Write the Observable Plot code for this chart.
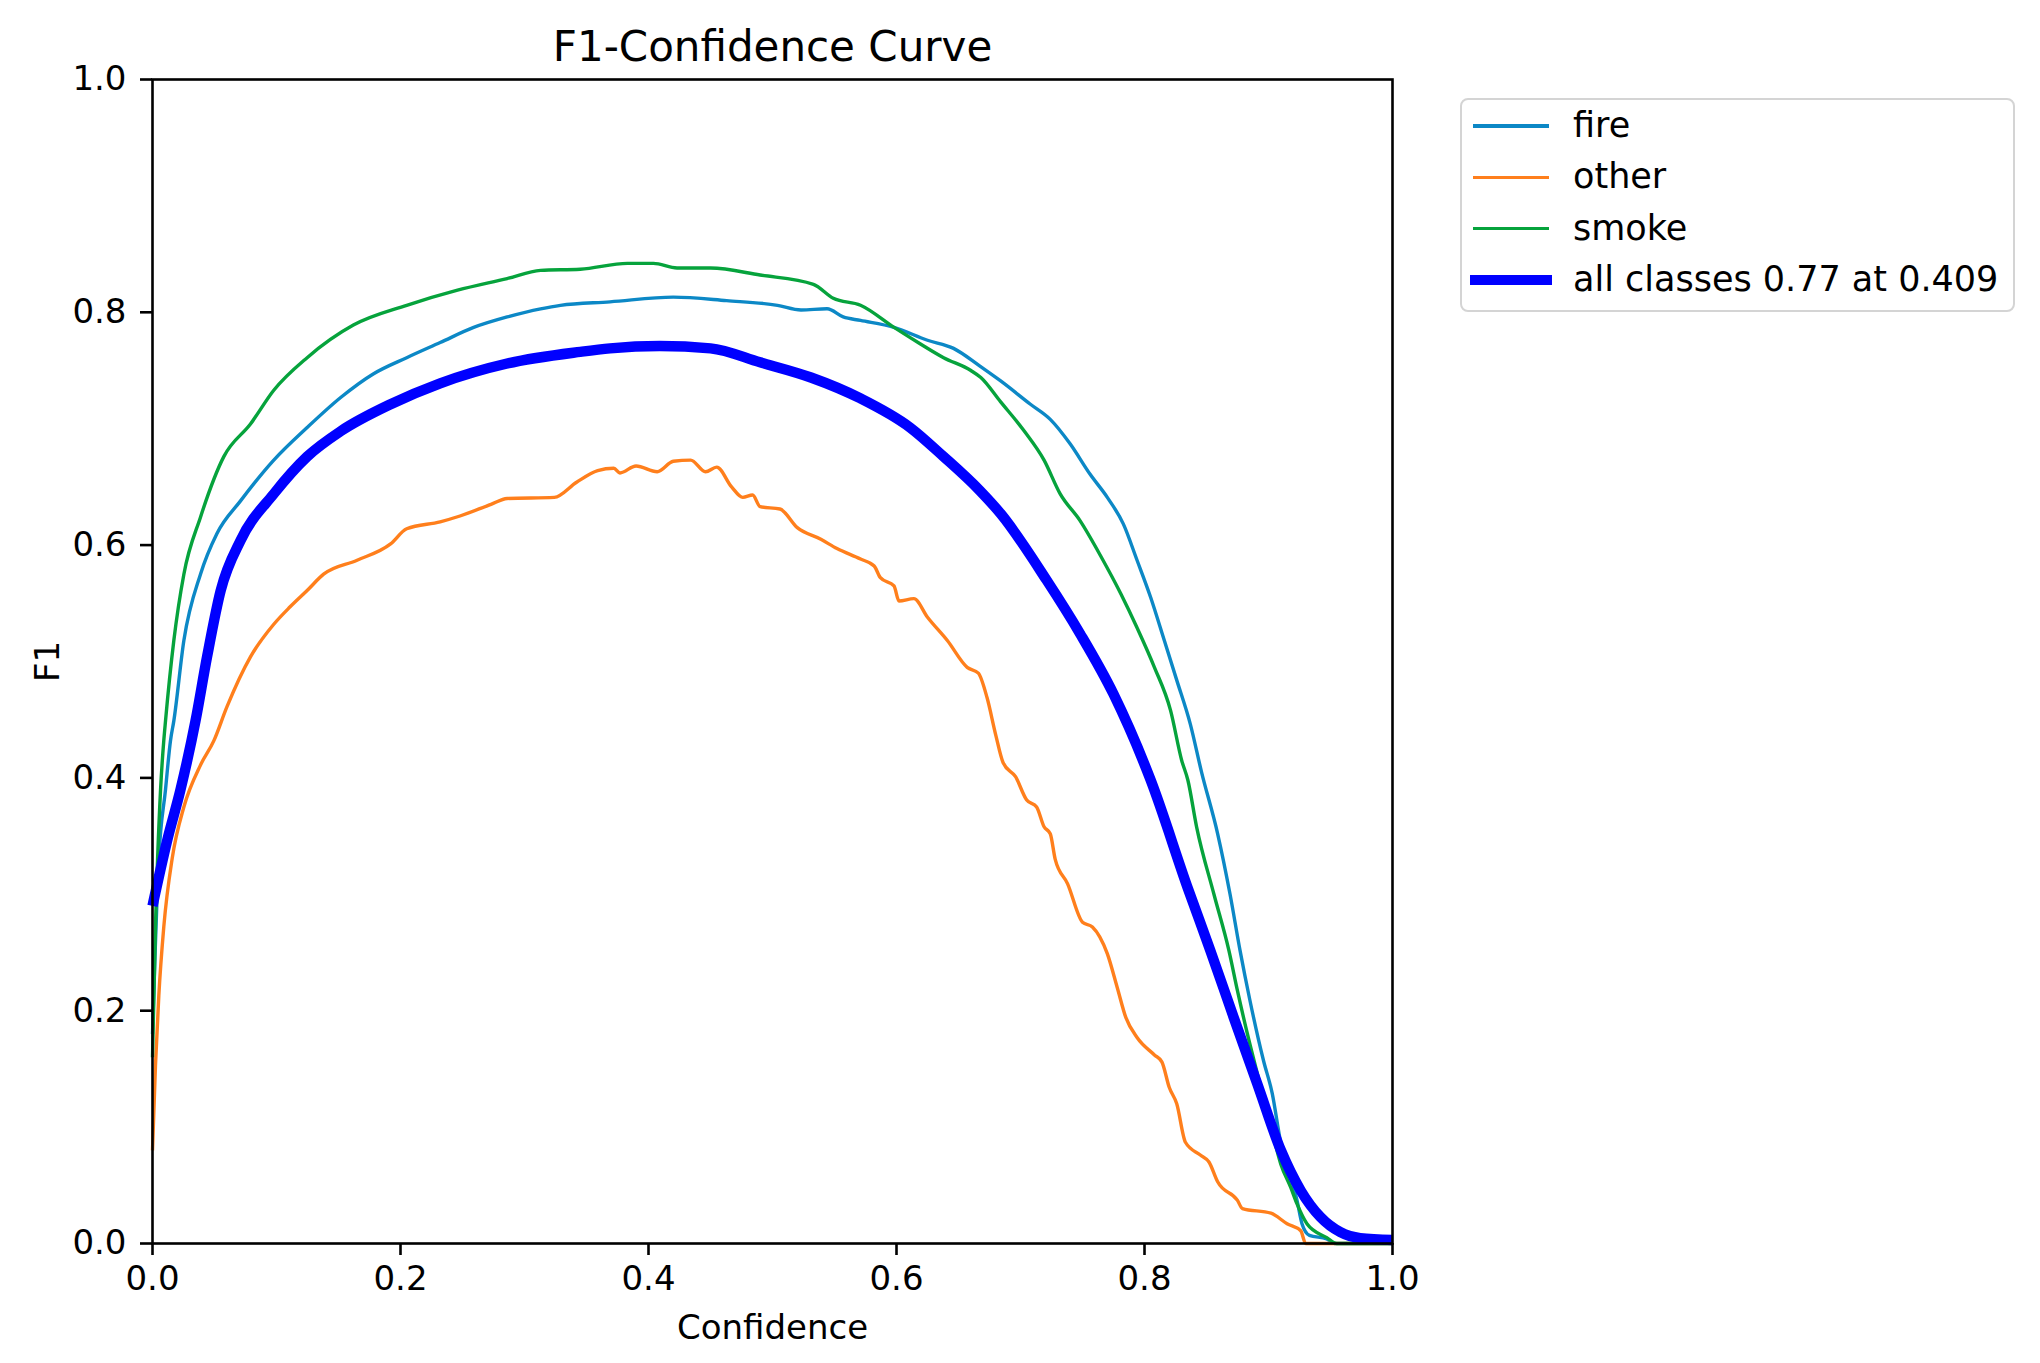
<!DOCTYPE html>
<html>
<head>
<meta charset="utf-8">
<script src="https://cdn.jsdelivr.net/npm/d3@7"></script>
<script src="https://cdn.jsdelivr.net/npm/@observablehq/plot@0.6"></script>
<style>
  html, body { margin: 0; padding: 0; background: #fff; }
  #wrap { position: relative; width: 2040px; height: 1363px; font-family: "DejaVu Sans", sans-serif; }
  #legend { position: absolute; left: 1460px; top: 98px; width: 551px; height: 210px; border: 2px solid #d4d4d4; border-radius: 8px; background: #fff; box-sizing: content-box; }
  .item { position: absolute; left: 0; height: 0; }
  .swatch { position: absolute; left: 11px; width: 76px; }
  .lab { position: absolute; left: 111px; font-size: 35px; line-height: 40px; top: -21px; white-space: nowrap; color: #000; }
</style>
</head>
<body>
<div id="wrap">
  <div id="chart"></div>
  <div id="legend"></div>
</div>
<script>
const title = "F1-Confidence Curve";
const xLabel = "Confidence";
const yLabel = "F1";
const xTicks = [0, 0.2, 0.4, 0.6, 0.8, 1.0];
const yTicks = [0, 0.2, 0.4, 0.6, 0.8, 1.0];

const seriesNames = ["fire", "other", "smoke", "all classes 0.77 at 0.409"];
const seriesColors = ["#0c88c6", "#ff7f1c", "#06a33c", "#0000ff"];
const seriesWidths = [3.4, 3.4, 3.4, 10.4];

const fireX = [0, 0.0051, 0.0105, 0.0145, 0.0172, 0.0253, 0.0387, 0.052, 0.071, 0.0978, 0.1247, 0.152, 0.178, 0.205, 0.232, 0.259, 0.286, 0.313, 0.329, 0.369, 0.420, 0.463, 0.504, 0.523, 0.544, 0.557, 0.571, 0.598, 0.625, 0.646, 0.667, 0.684, 0.708, 0.724, 0.740, 0.756, 0.770, 0.783, 0.794, 0.805, 0.816, 0.826, 0.837, 0.846, 0.859, 0.869, 0.877, 0.885, 0.896, 0.903, 0.910, 0.918, 0.923, 0.927, 0.933, 0.947, 0.953, 1.0];
const fireY = [0.18, 0.331, 0.39, 0.432, 0.449, 0.518, 0.575, 0.610, 0.638, 0.673, 0.701, 0.727, 0.747, 0.761, 0.774, 0.787, 0.796, 0.803, 0.806, 0.809, 0.813, 0.810, 0.806, 0.802, 0.803, 0.796, 0.793, 0.787, 0.776, 0.769, 0.754, 0.741, 0.721, 0.708, 0.687, 0.661, 0.641, 0.618, 0.587, 0.555, 0.518, 0.484, 0.446, 0.405, 0.352, 0.300, 0.252, 0.209, 0.157, 0.129, 0.086, 0.057, 0.037, 0.017, 0.007, 0.004, 0.0, 0.0];

const otherX = [0, 0.0024, 0.0051, 0.0091, 0.0159, 0.0253, 0.0387, 0.0495, 0.060, 0.079, 0.0978, 0.111, 0.1247, 0.138, 0.165, 0.192, 0.205, 0.232, 0.248, 0.273, 0.286, 0.324, 0.342, 0.359, 0.372, 0.377, 0.390, 0.407, 0.420, 0.434, 0.446, 0.455, 0.467, 0.476, 0.484, 0.490, 0.506, 0.520, 0.539, 0.552, 0.571, 0.582, 0.587, 0.598, 0.602, 0.614, 0.625, 0.641, 0.657, 0.666, 0.673, 0.680, 0.686, 0.696, 0.705, 0.713, 0.719, 0.724, 0.728, 0.738, 0.750, 0.758, 0.770, 0.778, 0.785, 0.794, 0.808, 0.814, 0.820, 0.826, 0.833, 0.845, 0.852, 0.859, 0.875, 0.879, 0.902, 0.915, 0.926, 0.930, 1.0];
const otherY = [0.08, 0.153, 0.213, 0.272, 0.331, 0.375, 0.411, 0.432, 0.461, 0.504, 0.532, 0.547, 0.561, 0.575, 0.587, 0.601, 0.614, 0.620, 0.625, 0.635, 0.640, 0.641, 0.654, 0.664, 0.666, 0.662, 0.668, 0.663, 0.672, 0.673, 0.663, 0.667, 0.650, 0.641, 0.643, 0.633, 0.631, 0.615, 0.605, 0.597, 0.588, 0.582, 0.572, 0.565, 0.552, 0.554, 0.538, 0.518, 0.495, 0.490, 0.469, 0.437, 0.413, 0.401, 0.381, 0.375, 0.358, 0.352, 0.330, 0.309, 0.276, 0.272, 0.249, 0.220, 0.194, 0.177, 0.162, 0.156, 0.134, 0.120, 0.087, 0.076, 0.070, 0.053, 0.037, 0.030, 0.026, 0.017, 0.011, 0.0, 0.0];

const smokeX = [0, 0.0024, 0.0065, 0.0091, 0.0105, 0.0172, 0.0253, 0.0387, 0.0575, 0.079, 0.0978, 0.1247, 0.162, 0.205, 0.246, 0.286, 0.313, 0.345, 0.383, 0.404, 0.423, 0.45, 0.490, 0.533, 0.549, 0.571, 0.598, 0.619, 0.638, 0.660, 0.668, 0.684, 0.703, 0.719, 0.732, 0.748, 0.765, 0.781, 0.794, 0.808, 0.821, 0.830, 0.835, 0.842, 0.856, 0.868, 0.875, 0.883, 0.891, 0.902, 0.910, 0.918, 0.923, 0.931, 0.947, 0.955, 1.0];
const smokeY = [0.16, 0.272, 0.39, 0.432, 0.449, 0.518, 0.575, 0.624, 0.676, 0.704, 0.733, 0.761, 0.789, 0.806, 0.819, 0.829, 0.836, 0.837, 0.842, 0.842, 0.838, 0.838, 0.832, 0.824, 0.812, 0.806, 0.787, 0.773, 0.761, 0.750, 0.744, 0.723, 0.698, 0.673, 0.644, 0.621, 0.590, 0.558, 0.529, 0.495, 0.458, 0.415, 0.398, 0.358, 0.300, 0.252, 0.217, 0.180, 0.146, 0.100, 0.068, 0.048, 0.034, 0.017, 0.005, 0.0, 0.0];

const allX = [0, 0.0118, 0.0226, 0.0347, 0.044, 0.055, 0.071, 0.0978, 0.1247, 0.152, 0.192, 0.232, 0.286, 0.345, 0.369, 0.409, 0.45, 0.490, 0.531, 0.571, 0.611, 0.638, 0.667, 0.684, 0.721, 0.748, 0.775, 0.805, 0.835, 0.853, 0.872, 0.891, 0.910, 0.926, 0.942, 0.958, 0.974, 1.0];
const allY = [0.29, 0.346, 0.390, 0.449, 0.504, 0.561, 0.604, 0.644, 0.676, 0.698, 0.721, 0.739, 0.756, 0.766, 0.769, 0.771, 0.769, 0.757, 0.744, 0.726, 0.701, 0.676, 0.647, 0.627, 0.570, 0.524, 0.472, 0.398, 0.305, 0.252, 0.194, 0.137, 0.080, 0.0455, 0.0226, 0.0097, 0.0046, 0.003];

const seriesX = [fireX, otherX, smokeX, allX];
const seriesY = [fireY, otherY, smokeY, allY];

const lineMarks = seriesNames.map((name, i) =>
  Plot.line(seriesX[i].map((x, j) => ({x, y: seriesY[i][j]})), {
    x: "x", y: "y", stroke: seriesColors[i], strokeWidth: seriesWidths[i],
    curve: "monotone-x", strokeLinejoin: "round", strokeLinecap: "butt"
  })
);

const fmt = d3.format(".1f");
const chart = Plot.plot({
  width: 2040,
  height: 1363,
  marginLeft: 152,
  marginRight: 648,
  marginTop: 79,
  marginBottom: 120,
  style: {fontFamily: "DejaVu Sans", background: "white", color: "black", overflow: "visible"},
  x: {domain: [0, 1]},
  y: {domain: [0, 1]},
  marks: [
    ...lineMarks,
    Plot.frame({stroke: "black", strokeWidth: 2.6}),
    Plot.axisX({ticks: xTicks, tickFormat: fmt, tickSize: 12, tickPadding: 10, fontSize: 34, strokeWidth: 2.6,
      label: xLabel, labelAnchor: "center", labelOffset: 95, labelArrow: "none"}),
    Plot.axisY({ticks: yTicks, tickFormat: fmt, tickSize: 12, tickPadding: 14, fontSize: 34, strokeWidth: 2.6,
      label: yLabel, labelAnchor: "center", labelOffset: 118, labelArrow: "none"}),
    Plot.text([title], {frameAnchor: "top", lineAnchor: "bottom", dy: -19, fontSize: 42, fill: "black"})
  ]
});
document.getElementById("chart").appendChild(chart);

const legend = document.getElementById("legend");
seriesNames.forEach((name, i) => {
  const item = document.createElement("div");
  item.className = "item";
  item.style.top = (26 + i * 51.3) + "px";
  const sw = document.createElement("div");
  sw.className = "swatch";
  sw.style.background = seriesColors[i];
  sw.style.height = seriesWidths[i] + "px";
  sw.style.top = (-seriesWidths[i] / 2) + "px";
  if (i === 3) { sw.style.left = "8px"; sw.style.width = "82px"; }
  const lab = document.createElement("div");
  lab.className = "lab";
  lab.textContent = name;
  item.appendChild(sw);
  item.appendChild(lab);
  legend.appendChild(item);
});
</script>
</body>
</html>
